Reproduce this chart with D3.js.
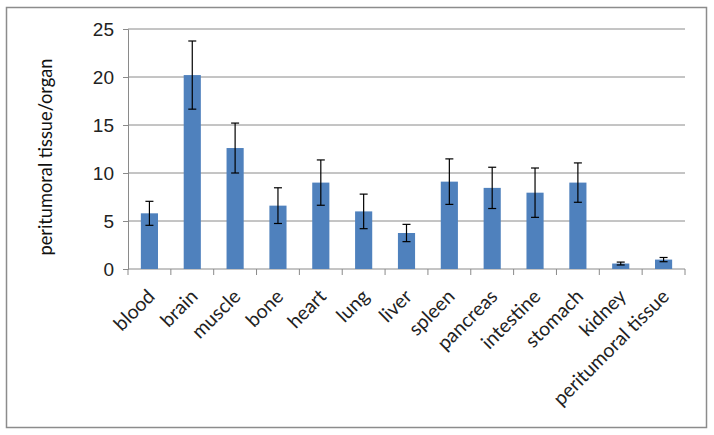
<!DOCTYPE html>
<html>
<head>
<meta charset="utf-8">
<script src="https://cdn.jsdelivr.net/npm/d3@7"></script>
<style>
  body { margin: 0; background: #fff; }
  svg { font-family: Lato, "Open Sans", sans-serif; }
</style>
</head>
<body>
<div id="chart"></div>
<script>
// Tissue ratio values
const organs = ['blood', 'brain', 'muscle', 'bone', 'heart', 'lung', 'liver',
    'spleen', 'pancreas', 'intestine', 'stomach', 'kidney', 'peritumoral tissue'];
const ratios = [5.8, 20.2, 12.6, 6.6, 9.0, 6.0, 3.75, 9.1, 8.45, 7.95, 9.0, 0.57, 0.98];
const errors = [1.25, 3.55, 2.6, 1.86, 2.36, 1.8, 0.9, 2.37, 2.15, 2.57, 2.05, 0.15, 0.22];
const yTicks = [0, 5, 10, 15, 20, 25];

const W = 714, H = 435;
const margin = { top: 29, right: 29, bottom: 166, left: 128 };
const width = W - margin.left - margin.right;
const height = H - margin.top - margin.bottom;

const svg = d3.select('#chart').append('svg')
    .attr('width', W)
    .attr('height', H);

// outer frame
svg.append('rect')
    .attr('x', 6.5).attr('y', 7.5)
    .attr('width', 700).attr('height', 420)
    .attr('fill', 'none')
    .attr('stroke', '#8c8c8c')
    .attr('stroke-width', 1.5);

const g = svg.append('g')
    .attr('transform', `translate(${margin.left},${margin.top})`);

const x = d3.scaleBand()
    .domain(organs)
    .range([0, width])
    .paddingInner(0.6)
    .paddingOuter(0.3);

const y = d3.scaleLinear()
    .domain([0, 25])
    .range([height, 0]);

// gridlines
g.selectAll('.grid')
    .data(yTicks.filter(t => t > 0))
    .join('line')
    .attr('class', 'grid')
    .attr('x1', 0).attr('x2', width)
    .attr('y1', d => y(d)).attr('y2', d => y(d))
    .attr('stroke', '#8a8a8a')
    .attr('stroke-width', 1);

// y axis
const yAxis = g.append('g')
    .call(d3.axisLeft(y).tickValues(yTicks).tickSize(5).tickPadding(9));
yAxis.select('.domain').attr('stroke', '#8a8a8a');
yAxis.selectAll('.tick line').attr('stroke', '#8a8a8a');
yAxis.selectAll('text')
    .style('font-size', '19px')
    .attr('fill', '#222');

// x axis: ticks at category boundaries
const boundaries = d3.range(organs.length + 1).map(i => i * width / organs.length);
g.append('line')
    .attr('x1', 0).attr('x2', width)
    .attr('y1', height).attr('y2', height)
    .attr('stroke', '#8a8a8a');
g.selectAll('.xtick')
    .data(boundaries)
    .join('line')
    .attr('class', 'xtick')
    .attr('x1', d => d).attr('x2', d => d)
    .attr('y1', height).attr('y2', height + 6)
    .attr('stroke', '#8a8a8a');

const cx = d => x(d) + x.bandwidth() / 2;

g.selectAll('.xlabel')
    .data(organs)
    .join('text')
    .attr('class', 'xlabel')
    .attr('transform', d => `translate(${cx(d) - 3},${height + 19}) rotate(-45)`)
    .attr('text-anchor', 'end')
    .attr('dy', '0.7em')
    .style('font-size', '19.5px')
    .attr('fill', '#222')
    .text(d => d);

// bars
g.selectAll('.bar')
    .data(organs)
    .join('rect')
    .attr('class', 'bar')
    .attr('x', d => x(d))
    .attr('width', x.bandwidth())
    .attr('y', (d, i) => y(ratios[i]))
    .attr('height', (d, i) => height - y(ratios[i]))
    .attr('fill', '#4f81bd');

// error bars
const eb = g.selectAll('.err')
    .data(organs)
    .join('g')
    .attr('class', 'err')
    .attr('stroke', '#000')
    .attr('stroke-width', 1.2);
eb.append('line')
    .attr('x1', d => cx(d)).attr('x2', d => cx(d))
    .attr('y1', (d, i) => y(ratios[i] + errors[i]))
    .attr('y2', (d, i) => y(ratios[i] - errors[i]));
[1, -1].forEach(s => {
    eb.append('line')
        .attr('x1', d => cx(d) - 4).attr('x2', d => cx(d) + 4)
        .attr('y1', (d, i) => y(ratios[i] + s * errors[i]))
        .attr('y2', (d, i) => y(ratios[i] + s * errors[i]));
});

// y axis title (squeezed to the narrow width of the original font)
svg.append('text')
    .attr('transform', `translate(52,157) rotate(-90)`)
    .attr('text-anchor', 'middle')
    .attr('textLength', 197)
    .attr('lengthAdjust', 'spacingAndGlyphs')
    .style('font-size', '20px')
    .attr('fill', '#111')
    .text('peritumoral tissue/organ');
</script>
</body>
</html>
